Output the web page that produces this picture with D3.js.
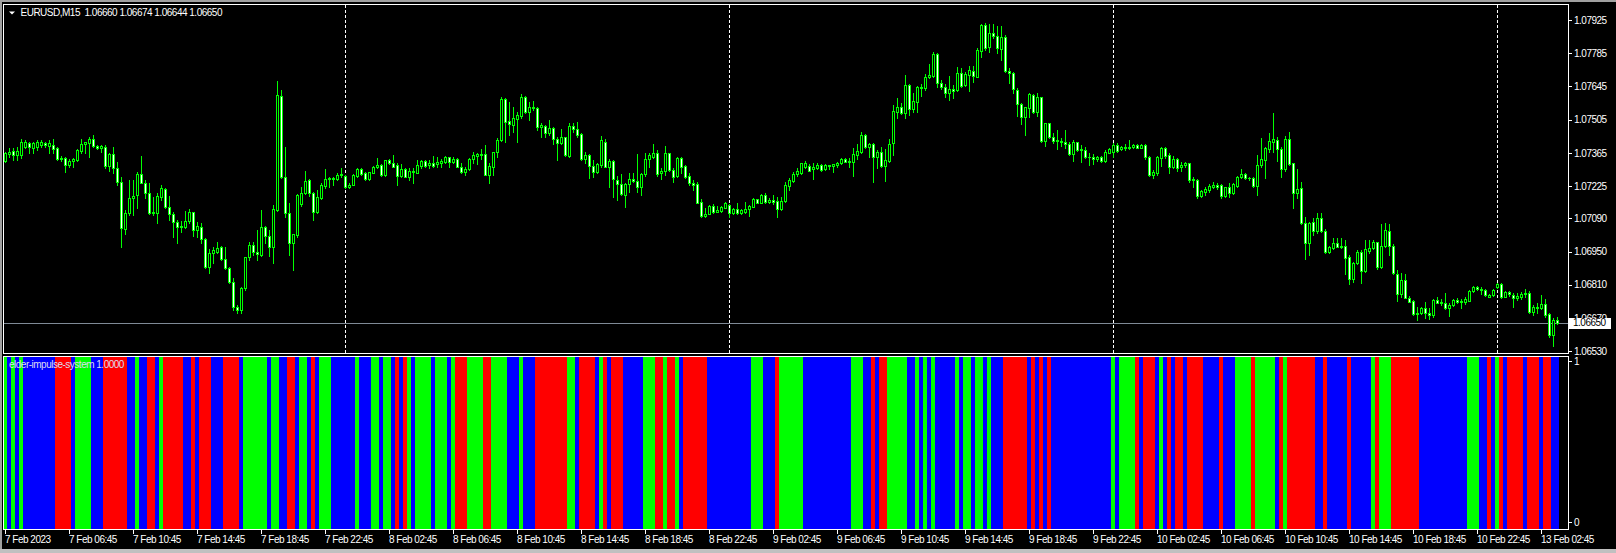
<!DOCTYPE html>
<html>
<head>
<meta charset="utf-8">
<script src="https://cdn.jsdelivr.net/npm/d3@7"></script>
<style>
body { margin: 0; background: #000; overflow: hidden; }
text { font-family: "Liberation Sans", Arial, sans-serif; font-size: 10px; letter-spacing: -0.5px; }
</style>
</head>
<body>
<script>
// EURUSD M15 bars, 7 Feb 02:45 .. 13 Feb 03:45
var opens = [1.07332,1.07361,1.07373,1.07356,1.07356,1.07391,1.07408,1.07384,1.07389,1.07398,1.07405,1.07396,1.07398,1.07384,1.07338,1.07345,1.07314,1.07332,1.07335,1.07375,
1.07403,1.07405,1.07426,1.07394,1.07384,1.07391,1.07310,1.07361,1.07300,1.07241,1.07043,1.07111,1.07174,1.07188,1.07275,1.07237,1.07198,1.07111,1.07113,1.07181,
1.07213,1.07136,1.07108,1.07073,1.07055,1.07052,1.07080,1.07115,1.07040,1.07052,1.07001,1.06886,1.06945,1.06949,1.06970,1.06917,1.06879,1.06820,1.06718,1.06706,
1.06795,1.06928,1.06976,1.06949,1.06935,1.07052,1.07017,1.06970,1.07125,1.07605,1.07262,1.07113,1.06987,1.07019,1.07149,1.07195,1.07251,1.07195,1.07118,1.07177,
1.07227,1.07254,1.07261,1.07254,1.07272,1.07270,1.07220,1.07232,1.07268,1.07296,1.07282,1.07254,1.07282,1.07305,1.07314,1.07272,1.07334,1.07321,1.07313,1.07270,
1.07296,1.07265,1.07291,1.07282,1.07312,1.07331,1.07314,1.07321,1.07319,1.07321,1.07328,1.07350,1.07328,1.07338,1.07307,1.07286,1.07296,1.07338,1.07354,1.07359,
1.07359,1.07274,1.07307,1.07371,1.07420,1.07591,1.07500,1.07483,1.07508,1.07522,1.07599,1.07539,1.07560,1.07553,1.07476,1.07479,1.07451,1.07469,1.07423,1.07408,
1.07431,1.07352,1.07479,1.07466,1.07445,1.07338,1.07357,1.07312,1.07286,1.07314,1.07413,1.07307,1.07331,1.07251,1.07234,1.07188,1.07233,1.07254,1.07247,1.07220,
1.07275,1.07340,1.07349,1.07363,1.07279,1.07289,1.07363,1.07293,1.07269,1.07342,1.07310,1.07268,1.07240,1.07234,1.07157,1.07101,1.07108,1.07142,1.07118,1.07122,
1.07135,1.07146,1.07111,1.07128,1.07114,1.07118,1.07128,1.07139,1.07170,1.07156,1.07187,1.07160,1.07167,1.07163,1.07128,1.07164,1.07227,1.07248,1.07275,1.07279,
1.07307,1.07312,1.07296,1.07300,1.07314,1.07296,1.07314,1.07312,1.07314,1.07321,1.07340,1.07328,1.07328,1.07356,1.07370,1.07441,1.07392,1.07401,1.07349,1.07370,
1.07312,1.07331,1.07406,1.07539,1.07560,1.07535,1.07651,1.07549,1.07581,1.07641,1.07637,1.07683,1.07689,1.07780,1.07658,1.07641,1.07616,1.07633,1.07630,1.07700,
1.07651,1.07693,1.07712,1.07686,1.07796,1.07904,1.07810,1.07869,1.07858,1.07803,1.07852,1.07710,1.07703,1.07630,1.07570,1.07515,1.07553,1.07609,1.07536,1.07599,
1.07417,1.07490,1.07434,1.07417,1.07415,1.07413,1.07401,1.07359,1.07410,1.07377,1.07377,1.07347,1.07349,1.07338,1.07347,1.07333,1.07366,1.07370,1.07399,1.07380,
1.07392,1.07387,1.07392,1.07399,1.07387,1.07399,1.07349,1.07272,1.07279,1.07345,1.07385,1.07356,1.07307,1.07340,1.07304,1.07314,1.07321,1.07251,1.07251,1.07185,
1.07202,1.07209,1.07223,1.07230,1.07230,1.07184,1.07220,1.07195,1.07227,1.07262,1.07276,1.07258,1.07258,1.07227,1.07314,1.07335,1.07382,1.07413,1.07420,1.07382,
1.07297,1.07422,1.07321,1.07198,1.07216,1.07069,1.06984,1.07076,1.07036,1.07090,1.07036,1.06949,1.06966,1.06984,1.06970,1.06973,1.06925,1.06833,1.06900,1.06949,
1.06869,1.06954,1.06963,1.06989,1.06883,1.06975,1.07036,1.06975,1.06855,1.06770,1.06830,1.06756,1.06742,1.06685,1.06692,1.06714,1.06690,1.06683,1.06746,1.06735,
1.06732,1.06711,1.06725,1.06746,1.06736,1.06736,1.06743,1.06785,1.06799,1.06792,1.06788,1.06760,1.06767,1.06802,1.06812,1.06760,1.06781,1.06767,1.06753,1.06757,
1.06770,1.06774,1.06697,1.06718,1.06711,1.06728,1.06685,1.06598,1.06660];
var highs = [1.07370,1.07384,1.07384,1.07391,1.07422,1.07419,1.07412,1.07412,1.07419,1.07419,1.07412,1.07419,1.07426,1.07389,1.07352,1.07349,1.07338,1.07342,1.07380,1.07422,
1.07412,1.07433,1.07441,1.07398,1.07398,1.07398,1.07363,1.07391,1.07328,1.07262,1.07125,1.07251,1.07251,1.07286,1.07352,1.07251,1.07237,1.07181,1.07195,1.07230,
1.07219,1.07184,1.07118,1.07083,1.07078,1.07122,1.07128,1.07118,1.07076,1.07069,1.07005,1.06959,1.06970,1.06991,1.06973,1.06970,1.06886,1.06837,1.06725,1.06799,
1.06928,1.06991,1.06991,1.07040,1.07125,1.07057,1.07040,1.07146,1.07668,1.07630,1.07391,1.07153,1.07026,1.07192,1.07223,1.07289,1.07254,1.07202,1.07209,1.07237,
1.07298,1.07265,1.07265,1.07279,1.07303,1.07272,1.07237,1.07275,1.07300,1.07300,1.07286,1.07286,1.07310,1.07345,1.07319,1.07335,1.07338,1.07357,1.07321,1.07319,
1.07300,1.07300,1.07300,1.07335,1.07335,1.07335,1.07335,1.07352,1.07347,1.07338,1.07352,1.07350,1.07347,1.07343,1.07324,1.07307,1.07343,1.07371,1.07366,1.07380,
1.07399,1.07321,1.07371,1.07427,1.07599,1.07595,1.07581,1.07557,1.07539,1.07613,1.07605,1.07581,1.07584,1.07557,1.07490,1.07483,1.07504,1.07476,1.07434,1.07465,
1.07434,1.07490,1.07490,1.07497,1.07448,1.07371,1.07361,1.07335,1.07324,1.07437,1.07423,1.07338,1.07335,1.07268,1.07275,1.07237,1.07279,1.07279,1.07361,1.07282,
1.07363,1.07363,1.07403,1.07377,1.07300,1.07394,1.07366,1.07300,1.07349,1.07347,1.07314,1.07279,1.07251,1.07244,1.07170,1.07132,1.07146,1.07150,1.07142,1.07143,
1.07160,1.07149,1.07132,1.07153,1.07128,1.07160,1.07146,1.07174,1.07170,1.07191,1.07195,1.07174,1.07187,1.07181,1.07178,1.07241,1.07258,1.07286,1.07300,1.07324,
1.07333,1.07319,1.07321,1.07321,1.07319,1.07317,1.07314,1.07319,1.07328,1.07345,1.07342,1.07342,1.07385,1.07403,1.07452,1.07445,1.07406,1.07406,1.07377,1.07392,
1.07382,1.07424,1.07567,1.07595,1.07574,1.07693,1.07655,1.07616,1.07647,1.07655,1.07698,1.07740,1.07789,1.07785,1.07672,1.07655,1.07689,1.07651,1.07728,1.07721,
1.07707,1.07731,1.07731,1.07806,1.07908,1.07911,1.07908,1.07908,1.07900,1.07900,1.07862,1.07721,1.07707,1.07637,1.07574,1.07560,1.07616,1.07612,1.07616,1.07602,
1.07493,1.07493,1.07448,1.07462,1.07427,1.07462,1.07413,1.07420,1.07413,1.07399,1.07392,1.07363,1.07361,1.07354,1.07352,1.07377,1.07385,1.07406,1.07406,1.07394,
1.07403,1.07420,1.07401,1.07401,1.07401,1.07401,1.07354,1.07293,1.07354,1.07389,1.07392,1.07366,1.07354,1.07342,1.07328,1.07328,1.07324,1.07262,1.07254,1.07209,
1.07220,1.07234,1.07244,1.07237,1.07234,1.07223,1.07237,1.07237,1.07269,1.07296,1.07279,1.07265,1.07262,1.07356,1.07427,1.07392,1.07448,1.07532,1.07434,1.07391,
1.07436,1.07452,1.07324,1.07296,1.07244,1.07094,1.07076,1.07090,1.07111,1.07111,1.07043,1.06975,1.07006,1.07008,1.07006,1.06998,1.06935,1.06907,1.06956,1.06956,
1.06998,1.06998,1.06998,1.06991,1.07066,1.07069,1.07066,1.06982,1.06872,1.06858,1.06855,1.06763,1.06746,1.06718,1.06718,1.06739,1.06711,1.06749,1.06760,1.06750,
1.06774,1.06732,1.06750,1.06753,1.06749,1.06760,1.06788,1.06805,1.06806,1.06799,1.06792,1.06771,1.06792,1.06816,1.06816,1.06785,1.06785,1.06774,1.06774,1.06778,
1.06792,1.06785,1.06725,1.06732,1.06767,1.06749,1.06690,1.06669,1.06674];
var lows = [1.07328,1.07349,1.07335,1.07335,1.07342,1.07384,1.07363,1.07363,1.07377,1.07391,1.07391,1.07363,1.07363,1.07335,1.07332,1.07286,1.07304,1.07307,1.07332,1.07363,
1.07363,1.07349,1.07391,1.07380,1.07370,1.07300,1.07290,1.07279,1.07230,1.06970,1.07026,1.07104,1.07104,1.07132,1.07237,1.07174,1.07108,1.07104,1.07069,1.07167,
1.07132,1.07083,1.07012,1.06984,1.07033,1.07048,1.07071,1.07017,1.07012,1.06987,1.06879,1.06858,1.06900,1.06942,1.06914,1.06876,1.06816,1.06704,1.06692,1.06690,
1.06788,1.06914,1.06935,1.06914,1.06932,1.06984,1.06931,1.06900,1.07122,1.07258,1.07097,1.06935,1.06872,1.07012,1.07143,1.07191,1.07184,1.07083,1.07111,1.07170,
1.07216,1.07223,1.07230,1.07251,1.07265,1.07216,1.07216,1.07229,1.07265,1.07272,1.07251,1.07251,1.07279,1.07300,1.07270,1.07270,1.07319,1.07305,1.07230,1.07265,
1.07262,1.07251,1.07240,1.07279,1.07300,1.07307,1.07300,1.07307,1.07307,1.07307,1.07324,1.07307,1.07321,1.07305,1.07282,1.07272,1.07293,1.07321,1.07319,1.07338,
1.07272,1.07240,1.07272,1.07347,1.07417,1.07413,1.07441,1.07455,1.07413,1.07511,1.07532,1.07504,1.07546,1.07462,1.07434,1.07431,1.07441,1.07403,1.07335,1.07403,
1.07352,1.07350,1.07455,1.07434,1.07335,1.07321,1.07258,1.07265,1.07279,1.07307,1.07305,1.07223,1.07181,1.07167,1.07188,1.07136,1.07202,1.07244,1.07202,1.07188,
1.07269,1.07307,1.07342,1.07269,1.07255,1.07272,1.07289,1.07244,1.07265,1.07279,1.07261,1.07230,1.07209,1.07153,1.07094,1.07097,1.07107,1.07114,1.07115,1.07118,
1.07132,1.07097,1.07107,1.07108,1.07107,1.07114,1.07101,1.07136,1.07153,1.07153,1.07153,1.07153,1.07150,1.07097,1.07125,1.07160,1.07209,1.07244,1.07269,1.07276,
1.07300,1.07288,1.07254,1.07296,1.07289,1.07293,1.07296,1.07286,1.07307,1.07319,1.07326,1.07307,1.07269,1.07338,1.07366,1.07387,1.07349,1.07241,1.07300,1.07307,
1.07248,1.07328,1.07356,1.07511,1.07529,1.07511,1.07525,1.07539,1.07539,1.07606,1.07630,1.07679,1.07686,1.07644,1.07633,1.07602,1.07588,1.07595,1.07627,1.07644,
1.07647,1.07627,1.07665,1.07683,1.07770,1.07799,1.07792,1.07848,1.07785,1.07756,1.07707,1.07658,1.07619,1.07521,1.07487,1.07441,1.07515,1.07532,1.07521,1.07413,
1.07394,1.07427,1.07406,1.07380,1.07394,1.07385,1.07356,1.07333,1.07373,1.07328,1.07342,1.07314,1.07319,1.07333,1.07328,1.07328,1.07363,1.07349,1.07370,1.07377,
1.07377,1.07380,1.07385,1.07385,1.07385,1.07338,1.07269,1.07258,1.07272,1.07310,1.07342,1.07282,1.07300,1.07290,1.07289,1.07307,1.07244,1.07223,1.07177,1.07178,
1.07188,1.07202,1.07216,1.07212,1.07174,1.07181,1.07181,1.07191,1.07223,1.07258,1.07254,1.07251,1.07220,1.07188,1.07307,1.07258,1.07370,1.07370,1.07333,1.07265,
1.07290,1.07314,1.07132,1.07174,1.07066,1.06917,1.06935,1.07020,1.07027,1.07031,1.06942,1.06945,1.06961,1.06968,1.06963,1.06855,1.06813,1.06823,1.06896,1.06816,
1.06865,1.06942,1.06959,1.06875,1.06879,1.06970,1.06935,1.06855,1.06743,1.06760,1.06753,1.06736,1.06683,1.06662,1.06687,1.06669,1.06666,1.06676,1.06732,1.06725,
1.06707,1.06678,1.06721,1.06732,1.06711,1.06729,1.06740,1.06781,1.06788,1.06771,1.06764,1.06757,1.06763,1.06795,1.06756,1.06757,1.06763,1.06715,1.06746,1.06750,
1.06760,1.06690,1.06683,1.06690,1.06707,1.06676,1.06591,1.06554,1.06644];
var closes = [1.07366,1.07370,1.07356,1.07373,1.07412,1.07412,1.07391,1.07405,1.07412,1.07412,1.07398,1.07405,1.07382,1.07338,1.07345,1.07314,1.07332,1.07338,1.07377,1.07403,
1.07410,1.07422,1.07396,1.07384,1.07394,1.07310,1.07361,1.07300,1.07244,1.07048,1.07111,1.07174,1.07184,1.07275,1.07240,1.07198,1.07111,1.07118,1.07184,1.07216,
1.07136,1.07108,1.07073,1.07055,1.07059,1.07078,1.07115,1.07040,1.07057,1.07001,1.06886,1.06942,1.06956,1.06967,1.06918,1.06879,1.06823,1.06718,1.06706,1.06795,
1.06925,1.06976,1.06949,1.06938,1.07052,1.07017,1.06970,1.07129,1.07609,1.07262,1.07111,1.06987,1.07024,1.07188,1.07198,1.07248,1.07195,1.07118,1.07181,1.07230,
1.07254,1.07261,1.07254,1.07272,1.07277,1.07220,1.07232,1.07272,1.07296,1.07277,1.07254,1.07284,1.07306,1.07314,1.07272,1.07334,1.07321,1.07307,1.07270,1.07296,
1.07265,1.07291,1.07286,1.07314,1.07331,1.07310,1.07321,1.07312,1.07326,1.07331,1.07350,1.07328,1.07340,1.07307,1.07286,1.07298,1.07338,1.07357,1.07359,1.07357,
1.07274,1.07310,1.07368,1.07420,1.07592,1.07497,1.07486,1.07511,1.07525,1.07599,1.07539,1.07560,1.07553,1.07476,1.07483,1.07451,1.07469,1.07423,1.07408,1.07431,
1.07357,1.07479,1.07465,1.07441,1.07338,1.07357,1.07312,1.07284,1.07319,1.07420,1.07307,1.07331,1.07254,1.07233,1.07191,1.07234,1.07254,1.07248,1.07223,1.07276,
1.07340,1.07356,1.07363,1.07276,1.07289,1.07363,1.07293,1.07265,1.07342,1.07307,1.07265,1.07237,1.07232,1.07156,1.07101,1.07108,1.07142,1.07118,1.07125,1.07136,
1.07153,1.07111,1.07128,1.07114,1.07125,1.07129,1.07142,1.07170,1.07156,1.07187,1.07160,1.07167,1.07160,1.07128,1.07164,1.07230,1.07251,1.07276,1.07289,1.07321,
1.07321,1.07290,1.07304,1.07314,1.07293,1.07314,1.07312,1.07317,1.07324,1.07340,1.07328,1.07331,1.07361,1.07375,1.07441,1.07392,1.07403,1.07349,1.07370,1.07312,
1.07335,1.07403,1.07543,1.07557,1.07532,1.07651,1.07549,1.07584,1.07641,1.07637,1.07683,1.07693,1.07780,1.07658,1.07641,1.07616,1.07633,1.07626,1.07700,1.07647,
1.07698,1.07714,1.07690,1.07799,1.07904,1.07806,1.07869,1.07858,1.07806,1.07852,1.07710,1.07700,1.07633,1.07570,1.07515,1.07557,1.07613,1.07536,1.07599,1.07415,
1.07490,1.07431,1.07417,1.07420,1.07410,1.07401,1.07361,1.07410,1.07377,1.07380,1.07347,1.07349,1.07338,1.07349,1.07333,1.07368,1.07380,1.07399,1.07375,1.07392,
1.07387,1.07392,1.07399,1.07387,1.07399,1.07349,1.07272,1.07283,1.07349,1.07385,1.07354,1.07307,1.07340,1.07300,1.07314,1.07321,1.07251,1.07255,1.07185,1.07205,
1.07213,1.07227,1.07230,1.07223,1.07184,1.07220,1.07195,1.07233,1.07265,1.07276,1.07258,1.07261,1.07226,1.07314,1.07340,1.07387,1.07417,1.07422,1.07382,1.07297,
1.07422,1.07319,1.07198,1.07212,1.07069,1.06984,1.07071,1.07036,1.07090,1.07036,1.06949,1.06970,1.06984,1.06970,1.06975,1.06921,1.06833,1.06900,1.06947,1.06869,
1.06959,1.06963,1.06989,1.06883,1.06975,1.07041,1.06975,1.06858,1.06771,1.06830,1.06756,1.06739,1.06685,1.06692,1.06714,1.06690,1.06683,1.06746,1.06735,1.06739,
1.06711,1.06725,1.06746,1.06736,1.06742,1.06749,1.06785,1.06799,1.06792,1.06788,1.06767,1.06767,1.06788,1.06812,1.06757,1.06781,1.06770,1.06753,1.06763,1.06770,
1.06774,1.06697,1.06718,1.06711,1.06728,1.06683,1.06598,1.06662,1.06650];

// elder impulse state per bar: G = green, R = red, B = blue
var impulse = ("GBGBGBBBBB" + "BBBRRRRBGG" + "GGBBBRRRRR" + "RBBGBBRRBG" + "RRRRRBBRBR" +
  "RRBBBRRRRB" + "GGGGGGBGGB" + "BRRBGGBRBG" + "GGBBBBBBGB" + "BBGGBGGBRB" +
  "RGBGGGGBGG" + "GBGRRRGGGG" + "RRGGGGBBBG" + "BBBRRRRRRR" + "RGGBRRRRBG" +
  "RBRRRBBBBB" + "GGGRRGRRGB" + "RRRRRRBBBB" + "BBBBBBBGGG" + "BBBRGGGGGG" +
  "BBBBBBBBBB" + "BBGGGBBRBR" + "RGGGGGBBGB" + "GBGBBBBBGB" + "GGBGGBGBBB" +
  "RRRRRRBRBR" + "BRBBBBBBBB" + "BBBBBBBGBG" + "GGGRBRRRBG" + "BRBRRBRRRR" +
  "BBBBRBBBGG" + "GGRGGGGGBR" + "GRRRRRRRBB" + "RBBBBBRBBB" + "BBGRGGGRRR" +
  "RRRRBBBBBB" + "BBBBBBGGGB" + "BRBGRBRRRR" + "BRRRBRRBB").split("");

var timeLabels = ["7 Feb 2023","7 Feb 06:45","7 Feb 10:45","7 Feb 14:45","7 Feb 18:45","7 Feb 22:45",
  "8 Feb 02:45","8 Feb 06:45","8 Feb 10:45","8 Feb 14:45","8 Feb 18:45","8 Feb 22:45",
  "9 Feb 02:45","9 Feb 06:45","9 Feb 10:45","9 Feb 14:45","9 Feb 18:45","9 Feb 22:45",
  "10 Feb 02:45","10 Feb 06:45","10 Feb 10:45","10 Feb 14:45","10 Feb 18:45","10 Feb 22:45","13 Feb 02:45"];
var priceTicks = [1.07925,1.07785,1.07645,1.07505,1.07365,1.07225,1.07090,1.06950,1.06810,1.06670,1.06530];
var dayStarts = [85, 181, 277, 373];   // bar index of 8, 9, 10, 13 Feb 00:00
var bid = 1.06650;

var n = closes.length;
var W = 1616, H = 553;
var frameL = 3.5, frameR = 1568.5, mainTop = 4.5, mainBot = 353.5, subTop = 356.5, subBot = 529.5;

var svg = d3.select("body").append("svg")
    .attr("width", W).attr("height", H)
    .style("display", "block");

svg.append("rect").attr("width", W).attr("height", H).attr("fill", "#000");
// window frame
svg.append("rect").attr("x", 0).attr("y", 0).attr("width", W).attr("height", 2).attr("fill", "#a0a0a0");
svg.append("rect").attr("x", 0).attr("y", 0).attr("width", 2).attr("height", H).attr("fill", "#a0a0a0");
svg.append("rect").attr("x", 0).attr("y", 549).attr("width", W).attr("height", 4).attr("fill", "#c0c0c0");

var x = d3.scaleBand().domain(d3.range(n)).range([3, 3 + 4 * n]);
var y = d3.scaleLinear().domain([1.06530, 1.07925]).range([351.3, 20]);
var ySub = d3.scaleLinear().domain([0, 1]).range([529, 357]);

var defs = svg.append("defs");
defs.append("clipPath").attr("id", "clipMain").append("rect")
    .attr("x", 4).attr("y", 5).attr("width", 1564).attr("height", 348);
defs.append("clipPath").attr("id", "clipSub").append("rect")
    .attr("x", 4).attr("y", 357).attr("width", 1564).attr("height", 172);
defs.append("clipPath").attr("id", "clipTick").append("rect")
    .attr("x", 1569).attr("y", 0).attr("width", 47).attr("height", Math.round(y(bid)) - 5);

// ---- histogram sub window
var colors = {G: "#00ff00", R: "#ff0000", B: "#0000ff"};
svg.append("g").attr("clip-path", "url(#clipSub)")
  .selectAll("rect").data(impulse).enter().append("rect")
    .attr("x", function(d, i) { return x(i); })
    .attr("width", x.bandwidth())
    .attr("y", ySub(1))
    .attr("height", ySub(0) - ySub(1))
    .attr("fill", function(d) { return colors[d]; });

// ---- main window
var main = svg.append("g").attr("clip-path", "url(#clipMain)");

// day separators
main.selectAll("line.sep").data(dayStarts).enter().append("line")
    .attr("x1", function(d) { return x(d) + 2.5; })
    .attr("x2", function(d) { return x(d) + 2.5; })
    .attr("y1", 5).attr("y2", 353)
    .attr("stroke", "#fff").attr("stroke-dasharray", "3,2");

// bid line
main.append("line")
    .attr("x1", 4).attr("x2", 1568)
    .attr("y1", Math.round(y(bid)) + 0.5).attr("y2", Math.round(y(bid)) + 0.5)
    .attr("stroke", "#7f8a96");

var bars = d3.range(n);
var cg = main.append("g");
// wicks
cg.selectAll("rect.wick").data(bars).enter().append("rect")
    .attr("x", function(i) { return x(i) + 2; })
    .attr("width", 1)
    .attr("y", function(i) { return Math.round(y(highs[i])); })
    .attr("height", function(i) { return Math.round(y(lows[i])) - Math.round(y(highs[i])) + 1; })
    .attr("fill", "#00ff00");
// bodies
function bTop(i) { return Math.round(y(Math.max(opens[i], closes[i]))); }
function bBot(i) { return Math.round(y(Math.min(opens[i], closes[i]))); }
cg.selectAll("rect.body").data(bars).enter().append("rect")
    .attr("x", function(i) { return x(i) + 1; })
    .attr("width", 3)
    .attr("y", bTop)
    .attr("height", function(i) { return bBot(i) - bTop(i) + 1; })
    .attr("fill", "#00ff00");
cg.selectAll("rect.inner").data(bars.filter(function(i) { return bBot(i) - bTop(i) >= 2; }))
  .enter().append("rect")
    .attr("x", function(i) { return x(i) + 2; })
    .attr("width", 1)
    .attr("y", function(i) { return bTop(i) + 1; })
    .attr("height", function(i) { return bBot(i) - bTop(i) - 1; })
    .attr("fill", function(i) { return closes[i] < opens[i] ? "#fff" : "#000"; });

// ---- frames
svg.append("rect").attr("x", frameL).attr("y", mainTop)
    .attr("width", frameR - frameL).attr("height", mainBot - mainTop)
    .attr("fill", "none").attr("stroke", "#fff");
svg.append("rect").attr("x", frameL).attr("y", subTop)
    .attr("width", frameR - frameL).attr("height", subBot - subTop)
    .attr("fill", "none").attr("stroke", "#fff");

// ---- price axis (the label hidden under the bid box only shows its top edge)
var pa = svg.append("g");
pa.selectAll("line").data(priceTicks).enter().append("line")
    .attr("x1", 1569).attr("x2", 1572)
    .attr("y1", function(d) { return Math.round(y(d)) + 0.5; })
    .attr("y2", function(d) { return Math.round(y(d)) + 0.5; })
    .attr("stroke", "#fff");
pa.selectAll("text").data(priceTicks).enter().append("text")
    .attr("x", 1574).attr("y", function(d) { return y(d); })
    .attr("dy", "0.36em").attr("fill", "#fff")
    .attr("clip-path", function(d) { return Math.abs(y(d) - y(bid)) < 10 ? "url(#clipTick)" : null; })
    .text(function(d) { return d.toFixed(5); });

// current bid label
svg.append("rect").attr("x", 1569).attr("y", Math.round(y(bid)) - 5)
    .attr("width", 42).attr("height", 11).attr("fill", "#fff");
svg.append("text").attr("x", 1573).attr("y", y(bid)).attr("dy", "0.36em")
    .attr("fill", "#000").text(bid.toFixed(5));

// sub window scale
var subTicks = [1, 0];
svg.selectAll("line.st").data(subTicks).enter().append("line")
    .attr("x1", 1569).attr("x2", 1572)
    .attr("y1", function(d) { return d ? ySub(d) + 4.5 : ySub(d) - 6.5; })
    .attr("y2", function(d) { return d ? ySub(d) + 4.5 : ySub(d) - 6.5; })
    .attr("stroke", "#fff");
svg.selectAll("text.st").data(subTicks).enter().append("text")
    .attr("x", 1574)
    .attr("y", function(d) { return d ? ySub(d) + 4.5 : ySub(d) - 6.5; })
    .attr("dy", "0.36em").attr("fill", "#fff")
    .text(function(d) { return d; });

// ---- time axis
var labelBars = timeLabels.map(function(d, k) { return k * 16; });
var ta = svg.append("g");
ta.selectAll("line").data(labelBars).enter().append("line")
    .attr("x1", function(i) { return x(i) + 2.5; })
    .attr("x2", function(i) { return x(i) + 2.5; })
    .attr("y1", 530).attr("y2", 534)
    .attr("stroke", "#fff");
ta.selectAll("text").data(labelBars).enter().append("text")
    .attr("x", function(i) { return x(i) + 2; })
    .attr("y", 543)
    .attr("fill", "#fff")
    .text(function(i, k) { return timeLabels[k]; });

// ---- titles
svg.append("path").attr("d", "M9,11.5 L15,11.5 L12,14.5 Z").attr("fill", "#fff");
var last = n - 1;
svg.append("text").attr("x", 20.5).attr("y", 16).attr("fill", "#fff")
    .attr("xml:space", "preserve")
    .text("EURUSD,M15  " + [opens[last], highs[last], lows[last], closes[last]].map(function(v) { return v.toFixed(5); }).join(" "));
svg.append("text").attr("x", 9).attr("y", 368).attr("fill", "#dcdcf0")
    .text("elder-impulse-system 1.0000");
</script>
</body>
</html>
